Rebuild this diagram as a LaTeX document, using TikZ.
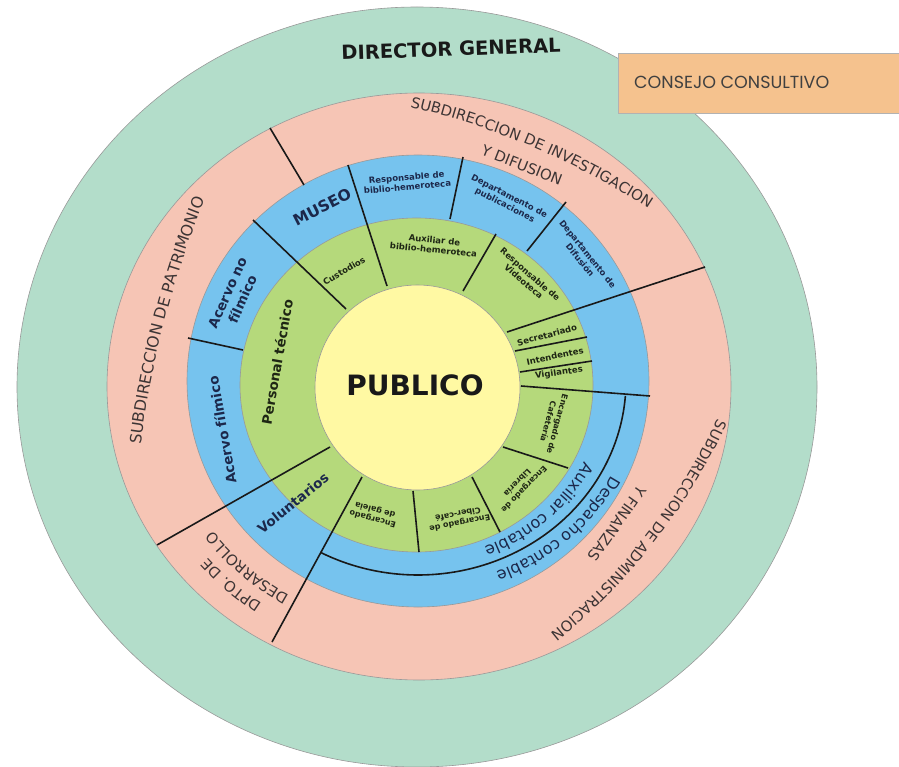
\documentclass[tikz,border=0pt]{standalone}
\usepackage{fontspec}
\setmainfont{DejaVu Sans}
\newfontfamily\consejofont{Poppins}
\usetikzlibrary{positioning,decorations.text}

\definecolor{directorgreen}{RGB}{179,221,202}
\definecolor{subdirpink}{RGB}{246,197,181}
\definecolor{deptblue}{RGB}{118,195,238}
\definecolor{staffgreen}{RGB}{181,217,123}
\definecolor{publicyellow}{RGB}{255,249,163}
\definecolor{consejoorange}{RGB}{245,194,142}
\definecolor{inknavy}{RGB}{28,40,75}
\definecolor{inkdark}{RGB}{30,38,20}
\definecolor{inkpink}{RGB}{60,52,52}

\tikzset{
  ring/.style={fill=#1, draw=black!40, line width=0.6pt},
  divider/.style={draw=black!90, line width=1.6pt},
  bluelbl/.style={font=\bfseries\fontsize{8.5}{9.8}\selectfont, text=inknavy, align=center, inner sep=0pt},
  greenlbl/.style={font=\bfseries\fontsize{8.5}{9.8}\selectfont, text=inkdark, align=center, inner sep=0pt},
  bigbluelbl/.style={font=\bfseries\fontsize{13.5}{16.5}\selectfont, text=inknavy, align=center, inner sep=0pt},
  biggreenlbl/.style={font=\bfseries\fontsize{13.5}{16.5}\selectfont, text=inkdark, align=center, inner sep=0pt},
  toplbl/.style={font=\bfseries\fontsize{19.5}{22}\selectfont, text=black!90, inner sep=0pt},
  pinklbl/.style={font=\fontsize{14.8}{17}\selectfont, text=inkpink, inner sep=0pt},
  consejobox/.style={fill=consejoorange, draw=black!30, line width=0.8pt, minimum width=281pt, minimum height=60pt, inner sep=0pt},
  consejolbl/.style={font=\consejofont\fontsize{17.5}{20}\selectfont, text=black!75, inner sep=0pt},
  pinkarc/.style={decorate, decoration={text along path, text align=center, text color=inkpink, text={|\fontsize{14.8}{17}\selectfont|#1}}},
  bluearc/.style={decorate, decoration={text along path, text align=center, text color=inknavy, text={|\fontsize{16}{18}\selectfont|#1}}}
}

\begin{document}
\begin{tikzpicture}[x=1pt, y=-1pt]
\useasboundingbox (0,0) rectangle (899,767);

% centres of the rings
\coordinate (outerc) at (417,387);
\coordinate (pinkc) at (419,386.5);
\coordinate (bluec) at (418,381);
\coordinate (greenc) at (416.5,385);
\coordinate (yellowc) at (417.5,387.5);
% centres of the flatter label arcs
\coordinate (invc) at (239.5,837.4);
\coordinate (admc) at (173.3,166.1);
\coordinate (patc) at (1132.4,573.7);

% rings, from outside in
\path[ring=directorgreen] (outerc) ellipse [x radius=400, y radius=380];
\path[ring=subdirpink] (pinkc) ellipse [x radius=312, y radius=293.5];
\path[ring=deptblue] (bluec) ellipse [x radius=231, y radius=226];
\path[ring=staffgreen] (greenc) ellipse [x radius=176.5, y radius=167];
\path[ring=publicyellow] (yellowc) circle [radius=102.5];

% dividing lines
\draw[divider] (270,128) -- (304,185);
\draw[divider] (253,220) -- (346,309);
\draw[divider] (348,165) -- (387,286);
\draw[divider] (463,157) -- (450,219);
\draw[divider] (496,234) -- (463,291);
\draw[divider] (566,202) -- (527,251);
\draw[divider] (507,332) -- (705,267);
\draw[divider] (515,351) -- (587,337);
\draw[divider] (520,372) -- (592,361);
\draw[divider] (521,386) -- (650,396);
\draw[divider] (330,447) -- (157,545);
\draw[divider] (362,477) -- (272,642);
\draw[divider] (188,338) -- (243,350);
\draw[divider] (503,447) -- (568,468);
\draw[divider] (472,477) -- (500,532);
\draw[divider] (413,491) -- (419,552);
\draw[divider] ([shift={(4.4:208 and 194)}]bluec) arc [start angle=4.4, end angle=118, x radius=208, y radius=194];

% outer ring and box
\node[toplbl, rotate=2] (director) at (451,49) {DIRECTOR GENERAL};
\node[consejobox, anchor=north west] (consejo) at (618,53) {};
\node[consejolbl, anchor=west] (consejotxt) at (634,82) {CONSEJO CONSULTIVO};

% subdirecciones
\path[pinkarc={SUBDIRECCION DE INVESTIGACION}] ([shift={(-79.5:750)}]invc) arc [start angle=-79.5, end angle=-54.3, radius=750];
\node[pinklbl, rotate=-21.4] (difusion) at (522,165) {Y DIFUSION};
\path[pinkarc={SUBDIRECCION DE ADMINISTRACION}] ([shift={(20:600)}]admc) arc [start angle=20, end angle=56, radius=600];
\node[pinklbl, rotate=-125.4] (finanzas) at (617.5,523.3) {Y FINANZAS};
\path[pinkarc={|\fontsize{15.8}{18}\selectfont|SUBDIRECCION DE PATRIMONIO}] ([shift={(-175:1000)}]patc) arc [start angle=-175, end angle=-155.6, radius=1000];
\path[pinkarc={DPTO. DE}] ([shift={(110:279 and 263)}]pinkc) arc [start angle=110, end angle=154, x radius=279, y radius=263];
\path[pinkarc={DESARROLLO}] ([shift={(110:257 and 242)}]pinkc) arc [start angle=110, end angle=154, x radius=257, y radius=242];

% departamentos
\node[bigbluelbl, font=\bfseries\fontsize{15.5}{18}\selectfont, rotate=27] (museo) at (322,207) {MUSEO};
\node[bluelbl, rotate=5] (respbiblio) at (407,182) {Responsable de\\biblio-hemeroteca};
\node[bluelbl, rotate=-27] (deptpub) at (507,201) {Departamento de\\publicaciones};
\node[bluelbl, rotate=-51] (deptdif) at (584,257) {Departamento de\\Difusión};
\node[bigbluelbl, rotate=66] (acervono) at (235,296) {Acervo no\\fílmico};
\node[bigbluelbl, rotate=100] (acervo) at (222,430) {Acervo fílmico};
\node[bigbluelbl, rotate=39] (voluntarios) at (293,503) {Voluntarios};
\path[bluearc={Despacho contable}] ([shift={(15:218 and 204)}]bluec) arc [start angle=15, end angle=81, x radius=218, y radius=204];
\path[bluearc={Auxiliar contable}] ([shift={(17:187 and 177)}]bluec) arc [start angle=17, end angle=79, x radius=187, y radius=177];

% personal
\node[biggreenlbl, rotate=80] (personal) at (277,362) {Personal técnico};
\node[greenlbl, rotate=31] (custodios) at (344,271) {Custodios};
\node[greenlbl, rotate=-6] (auxbiblio) at (434,245) {Auxiliar de\\biblio-hemeroteca};
\node[greenlbl, rotate=-41] (respvideo) at (527,278) {Responsable de\\Videoteca};
\node[greenlbl, rotate=15] (secretariado) at (547,335) {Secretariado};
\node[greenlbl, rotate=12] (intendentes) at (555,356) {Intendentes};
\node[greenlbl, rotate=8] (vigilantes) at (559,373) {Vigilantes};
\node[greenlbl, font=\bfseries\fontsize{8}{9.5}\selectfont, rotate=-105] (cafeteria) at (553,423) {Encargado de\\Cafetería};
\node[greenlbl, font=\bfseries\fontsize{8}{9.5}\selectfont, rotate=-134] (libreria) at (521,486) {Encargado de\\Librería};
\node[greenlbl, font=\bfseries\fontsize{8}{9.5}\selectfont, rotate=-169] (cibercafe) at (459,519) {Encargado de\\Ciber-café};
\node[greenlbl, font=\bfseries\fontsize{8}{9.5}\selectfont, rotate=165] (galeria) at (374,514) {Encargado\\de galeia};

% centre
\node[font=\bfseries\fontsize{28}{30}\selectfont, text=black!90, inner sep=0pt] (publico) at (415,385) {PUBLICO};
\end{tikzpicture}
\end{document}
